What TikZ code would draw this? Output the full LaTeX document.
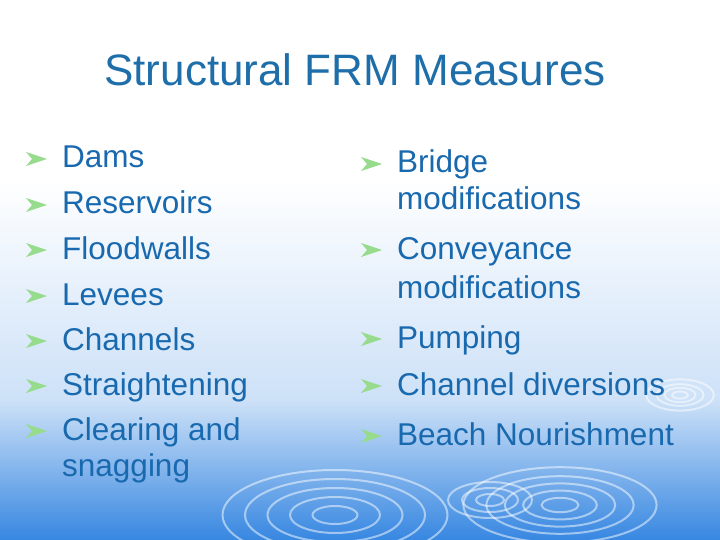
\documentclass[tikz,border=0pt]{standalone}
\usepackage{fontspec}
\setmainfont{Liberation Sans}
\definecolor{txt}{RGB}{25,105,175}
\definecolor{tit}{RGB}{30,110,170}
\definecolor{bul}{RGB}{150,220,140}
\definecolor{bgb}{RGB}{55,135,225}
\begin{document}
\begin{tikzpicture}[x=1pt,y=-1pt,
  item/.style={anchor=base west,font=\fontsize{31.5}{33}\selectfont,text=txt,inner sep=0pt,align=left},
  bl/.style={fill=bul},
  rip/.style={draw=white,opacity=0.5,line width=2pt}]
\useasboundingbox (0,0) rectangle (720,540);
\fill[white] (0,0) rectangle (720,540);
\shade[top color=white,bottom color=white!75!bgb] (0,180) rectangle (720,400);
\shade[top color=white!75!bgb,bottom color=bgb] (0,400) rectangle (720,540);
\foreach \r in {15,30,45,60,75}{\draw[rip] (335,515) ellipse ({\r*1.5} and {\r*0.6});}
\foreach \r in {8,16,24,32,42}{\draw[rip] (560,505) ellipse ({\r*2.3} and {\r*0.9});}
\foreach \r in {6,12,18,26}{\draw[rip] (680,395) ellipse ({\r*1.3} and {\r*0.6});}
\foreach \r in {10,20,30}{\draw[rip] (490,500) ellipse ({\r*1.4} and {\r*0.6});}
\node[anchor=base,font=\fontsize{44}{46}\selectfont,text=tit] (t) at (355,86) {Structural FRM Measures};
\foreach \y/\s [count=\i] in {168/Dams,214/Reservoirs,259/Floodwalls,305/Levees,350/Channels,395/Straightening,440/Clearing and}{
  \coordinate (lb\i) at (26,\y-9);
  \fill[bl] (lb\i) ++(0,-7) -- ++(21,7) -- ++(-21,7) -- ++(6,-7) -- cycle;
  \node[item] (l\i) at (62,\y) {\s};}
\node[item] (l8) at (62,476) {snagging};
\foreach \y/\s [count=\i] in {173/Bridge,259/Conveyance,348/Pumping,395/Channel diversions,445/Beach Nourishment}{
  \coordinate (rb\i) at (361,\y-9);
  \fill[bl] (rb\i) ++(0,-7) -- ++(21,7) -- ++(-21,7) -- ++(6,-7) -- cycle;
  \node[item] (r\i) at (397,\y) {\s};}
\node[item] (r6) at (397,210) {modifications};
\node[item] (r7) at (397,298) {modifications};
\end{tikzpicture}
\end{document}
